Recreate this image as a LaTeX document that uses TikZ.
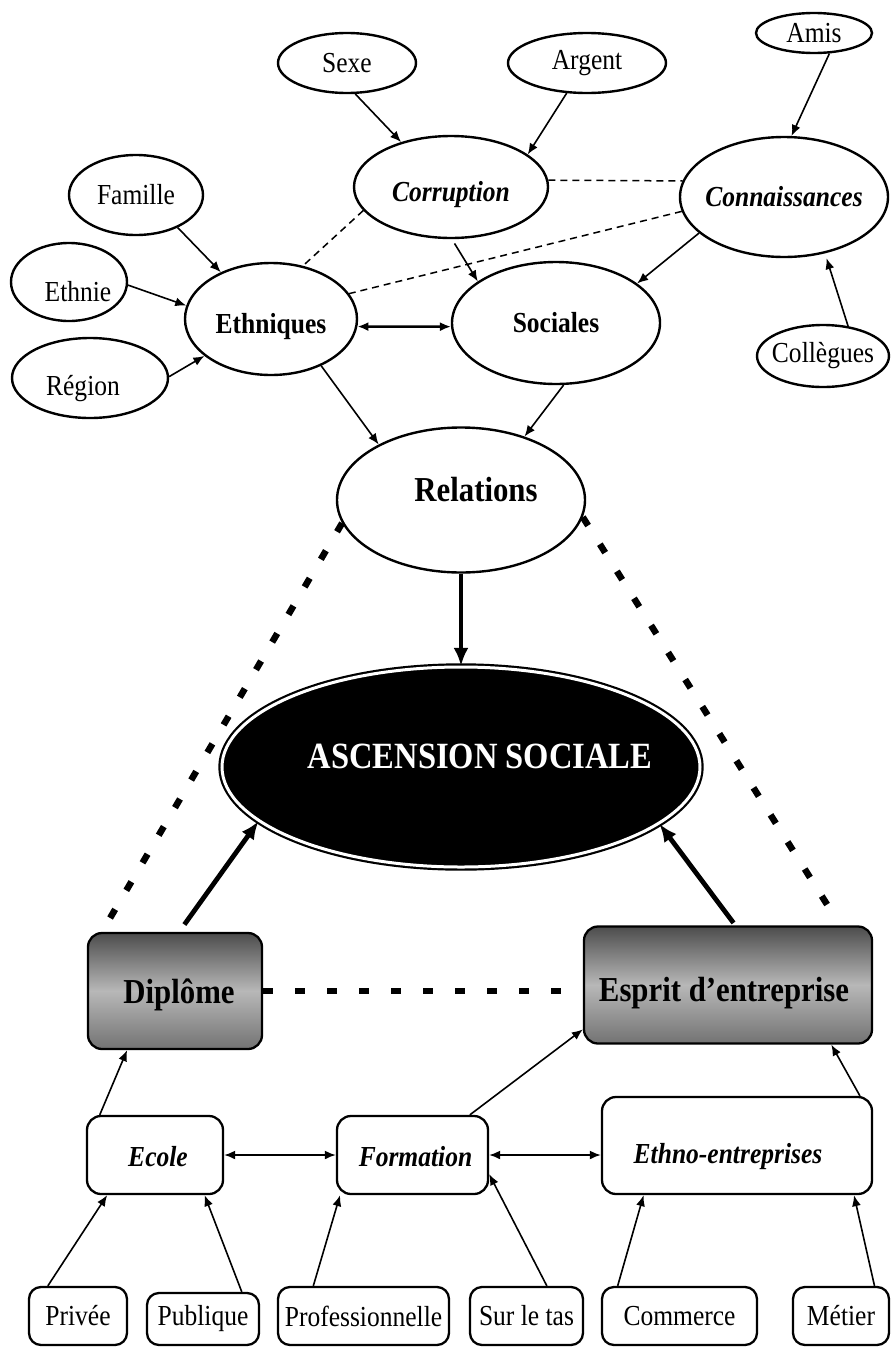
\documentclass[tikz,border=0pt]{standalone}
\usepackage{fontspec}
\setmainfont{Liberation Serif}[FakeStretch=0.88]
\usetikzlibrary{arrows.meta,shapes.geometric,calc}
\begin{document}
\begin{tikzpicture}[x=1pt,y=-1pt,
  ell/.style={draw,ellipse,line width=2.4pt,inner sep=0pt},
  bx/.style={draw,rectangle,rounded corners=14pt,line width=2.3pt,inner sep=0pt},
  gbx/.style={bx,top color=black!70,bottom color=black!55,middle color=black!28},
  tr/.style={font=\fontsize{29}{33}\selectfont},
  tb/.style={font=\fontsize{29}{33}\selectfont\bfseries},
  tbi/.style={font=\fontsize{29}{33}\selectfont\bfseries\itshape},
  tbig/.style={font=\fontsize{35}{40}\selectfont\bfseries},
  arr/.style={line width=1.6pt,-{Latex[length=11pt,width=9pt]}},
  darr/.style={line width=1.8pt,{Latex[length=11pt,width=9pt]}-{Latex[length=11pt,width=9pt]}},
  dsh/.style={line width=1.5pt,dash pattern=on 7pt off 5pt},
  bigarr/.style={line width=4.8pt,-{Latex[length=18pt,width=15pt]}},
  bigdsh/.style={line width=6.5pt,dash pattern=on 10pt off 22pt},
]
\path[use as bounding box] (0,0) rectangle (891,1347);

% upper ellipses
\node[ell,minimum width=138,minimum height=60,label={[tr]center:Sexe}] (sexe) at (347,63) {};
\node[ell,minimum width=158,minimum height=60,label={[tr]center:Argent}] (argent) at (587,63) {};
\node[ell,minimum width=116,minimum height=40,label={[tr]center:Amis}] (amis) at (814,33) {};
\node[ell,minimum width=134,minimum height=80,label={[tr]center:Famille}] (famille) at (136,195) {};
\node[ell,minimum width=194,minimum height=102,label={[tbi,yshift=-8pt]center:Corruption}] (corr) at (451,187) {};
\node[ell,minimum width=208,minimum height=120,label={[tbi]center:Connaissances}] (conn) at (784,197) {};
\node[ell,minimum width=116,minimum height=78,label={[tr,xshift=9pt,yshift=-10pt]center:Ethnie}] (ethnie) at (69,282) {};
\node[ell,minimum width=172,minimum height=112,label={[tb,yshift=-8pt]center:Ethniques}] (ethniques) at (271,319) {};
\node[ell,minimum width=208,minimum height=122,label={[tb]center:Sociales}] (sociales) at (556,323) {};
\node[ell,minimum width=156,minimum height=80,label={[tr,xshift=-7pt,yshift=-11pt]center:Région}] (region) at (90,378) {};
\node[ell,minimum width=132,minimum height=62,label={[tr]center:Collègues}] (coll) at (823,356) {};
\node[ell,minimum width=248,minimum height=145,label={[tbig,xshift=15pt,yshift=10pt]center:Relations}] (relations) at (461,500) {};
\node[ell,minimum width=478,minimum height=200,fill=black,double=white,double distance=3pt,line width=2.2pt,
  label={[font=\fontsize{37}{42}\selectfont\bfseries,text=white,xshift=19pt,yshift=11pt]center:ASCENSION SOCIALE}] (asc) at (461,767) {};

% boxes
\node[gbx,minimum width=174,minimum height=116,label={[tbig,xshift=4pt,yshift=-4pt]center:Diplôme}] (diplome) at (175,991) {};
\node[gbx,minimum width=288,minimum height=117,label={[tbig,xshift=-4pt,yshift=-8pt]center:Esprit d’entreprise}] (esprit) at (728,985) {};
\node[bx,minimum width=136,minimum height=78,label={[tbi,xshift=3pt,yshift=-2pt]center:Ecole}] (ecole) at (155,1155) {};
\node[bx,minimum width=151,minimum height=78,label={[tbi,xshift=3pt,yshift=-2pt]center:Formation}] (formation) at (412.5,1155) {};
\node[bx,minimum width=270,minimum height=97,label={[tbi,xshift=-9pt,yshift=-11pt]center:Ethno-entreprises}] (ethno) at (737,1145.5) {};
\node[bx,rounded corners=12pt,minimum width=98,minimum height=58,label={[tr]center:Privée}] (privee) at (78,1316) {};
\node[bx,rounded corners=12pt,minimum width=112,minimum height=52,label={[tr]center:Publique}] (publique) at (203,1319) {};
\node[bx,rounded corners=12pt,minimum width=171,minimum height=58,label={[tr]center:Professionnelle}] (prof) at (363.5,1316) {};
\node[bx,rounded corners=12pt,minimum width=113,minimum height=58,label={[tr]center:Sur le tas}] (surletas) at (526.5,1316) {};
\node[bx,rounded corners=12pt,minimum width=155,minimum height=58,label={[tr]center:Commerce}] (commerce) at (679.5,1316) {};
\node[bx,rounded corners=12pt,minimum width=96,minimum height=58,label={[tr]center:Métier}] (metier) at (841,1316) {};

% upper connectors
\draw[arr] (sexe.-75) -- (corr.138);
\draw[arr] (argent.236) -- (corr.23);
\draw[arr] (amis.-53) -- (conn.83);
\draw[arr] (famille.-38) -- (ethniques.137);
\draw[arr] (ethnie.-3) -- (ethniques.171);
\draw[arr] (region.1) -- (ethniques.209);
\draw[darr,line width=2.6pt] (ethniques.-5) -- (sociales.182);
\draw[arr,shorten <=5pt] (corr.-89) -- (sociales.152);
\draw[arr] (conn.203) -- (sociales.26);
\draw[arr,shorten >=5pt] (coll.50) -- (conn.-54);
\draw[arr] (ethniques.-43) -- (relations.146);
\draw[arr] (sociales.-83) -- (relations.45);
\draw[dsh] (corr.4) -- (conn.171);
\draw[dsh] (corr.195) -- (ethniques.59);
\draw[dsh] (conn.188) -- (ethniques.18);

% middle connectors
\draw[bigarr,line width=3.8pt] (relations.south) -- (asc.north);
\draw[bigarr,shorten <=9pt] (diplome.86) -- (asc.195);
\draw[bigarr,shorten <=3pt] (esprit.83) -- (asc.-16);
\draw[bigdsh] (relations.191) -- (diplome.141);
\draw[bigdsh,shorten >=18pt] (relations.-8) -- (esprit.28);
\draw[bigdsh,shorten >=20pt] (diplome.east) -- (diplome.east -| esprit.west);

% lower connectors
\draw[arr] (ecole.144) -- (diplome.231);
\draw[arr] (formation.35) -- (esprit.197);
\draw[arr] (ethno.22) -- (esprit.-30);
\draw[darr] (ecole.east) -- (formation.west);
\draw[darr] (formation.east) -- (formation.east -| ethno.west);
\draw[arr] (privee.135) -- (ecole.220);
\draw[arr] (publique.35) -- (ecole.-39);
\draw[arr] (prof.149) -- (formation.209);
\draw[arr] (surletas.56) -- (formation.-14);
\draw[arr] (commerce.154) -- (ethno.208);
\draw[arr] (metier.42) -- (ethno.-23);
\end{tikzpicture}
\end{document}
